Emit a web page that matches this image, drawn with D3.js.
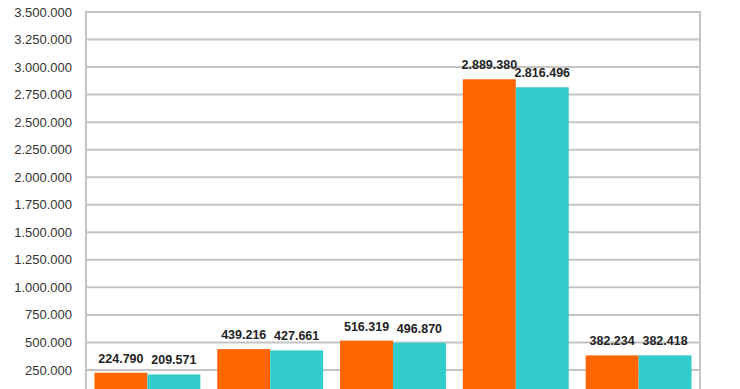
<!DOCTYPE html>
<html>
<head>
<meta charset="utf-8">
<script src="https://cdn.jsdelivr.net/npm/d3@7"></script>
<style>
  body { margin: 0; background: #fff; }
  svg { display: block; }
</style>
</head>
<body>
<div id="chart"></div>
<script>
// values; category names and the zero line are cropped off the bottom
const categories = ["A", "B", "C", "D", "E"];
const seriesNames = ["s1", "s2"];
const series1 = [224790, 439216, 516319, 2889380, 382234];
const series2 = [209571, 427661, 496870, 2816496, 382418];
const yTicks = [250000, 500000, 750000, 1000000, 1250000, 1500000, 1750000,
                2000000, 2250000, 2500000, 2750000, 3000000, 3250000, 3500000];

const colors = { s1: "#ff6600", s2: "#33cccc" };

const width = 740, height = 389;
const margin = { left: 86, right: 700, top: 12, bottom: 397.5 };

const fmt = v => d3.format(",")(v).replace(/,/g, ".");

const svg = d3.select("#chart").append("svg")
    .attr("width", width)
    .attr("height", height);

const y = d3.scaleLinear().domain([0, 3500000]).range([margin.bottom, margin.top]);
const x0 = d3.scaleBand().domain(categories).range([margin.left, margin.right]).padding(0);
const x1 = d3.scaleBand().domain(seriesNames).range([0, x0.bandwidth()])
    .paddingInner(0).paddingOuter(0.16);

// gridlines
svg.append("g")
  .selectAll("line")
  .data(yTicks)
  .join("line")
    .attr("x1", margin.left)
    .attr("x2", margin.right)
    .attr("y1", d => y(d))
    .attr("y2", d => y(d))
    .attr("stroke", "#c4c4c4")
    .attr("stroke-width", 2);

// frame sides
[margin.left, margin.right].forEach(xx => {
  svg.append("line")
      .attr("x1", xx).attr("x2", xx)
      .attr("y1", margin.top - 1).attr("y2", margin.bottom)
      .attr("stroke", "#c4c4c4").attr("stroke-width", 2);
});

// y tick labels
svg.append("g")
  .selectAll("text")
  .data(yTicks)
  .join("text")
    .attr("x", 72)
    .attr("y", d => y(d))
    .attr("dy", "0.35em")
    .attr("text-anchor", "end")
    .attr("font-family", "Liberation Sans, Arial, sans-serif")
    .attr("font-size", 13)
    .attr("fill", "#333")
    .text(d => fmt(d));

const rows = categories.map((c, i) => ({
    cat: c,
    vals: [{ key: "s1", v: series1[i] }, { key: "s2", v: series2[i] }]
}));

const groups = svg.append("g")
  .selectAll("g")
  .data(rows)
  .join("g")
    .attr("transform", d => `translate(${x0(d.cat)},0)`);

groups.selectAll("rect")
  .data(d => d.vals)
  .join("rect")
    .attr("x", d => x1(d.key))
    .attr("width", x1.bandwidth())
    .attr("y", d => y(d.v))
    .attr("height", d => y(0) - y(d.v))
    .attr("fill", d => colors[d.key]);

groups.selectAll("text")
  .data(d => d.vals)
  .join("text")
    .attr("x", d => x1(d.key) + x1.bandwidth() / 2)
    .attr("y", d => y(d.v) - 10)
    .attr("text-anchor", "middle")
    .attr("font-family", "Liberation Sans, Arial, sans-serif")
    .attr("font-weight", "bold")
    .attr("font-size", 12.5)
    .attr("fill", "#222")
    .text(d => fmt(d.v));
</script>
</body>
</html>
